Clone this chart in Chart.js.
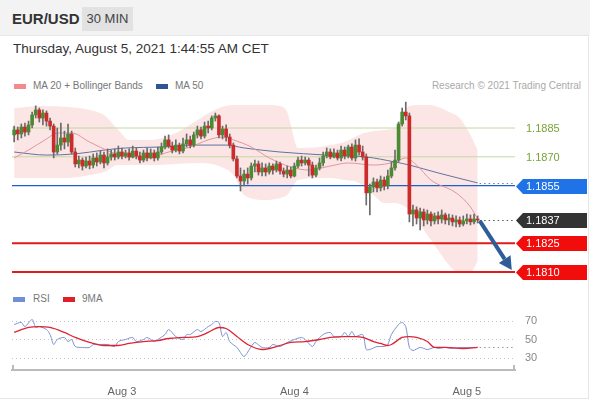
<!DOCTYPE html>
<html><head><meta charset="utf-8">
<script src="https://cdn.jsdelivr.net/npm/chart.js@4.4.1/dist/chart.umd.min.js"></script>
<style>
html,body{margin:0;padding:0;width:590px;height:400px;overflow:hidden;background:#fff;font-family:"Liberation Sans",Arial,sans-serif;}
#hdr{position:absolute;left:0;top:0;width:590px;height:35px;background:#f3f3f3;}
#card{position:absolute;left:-1px;top:35px;width:588px;height:362px;background:#fff;border:1px solid #e6e6e6;}
.abs{position:absolute;white-space:nowrap;line-height:16px;}
#sym{left:12px;top:11px;font-size:15px;font-weight:bold;color:#333;}
#tf{left:82px;top:7px;width:51px;height:24px;line-height:24px;text-align:center;background:#e2e2e2;font-size:13px;color:#444;}
#date{left:13px;top:41px;font-size:13.5px;color:#333;}
.leg{font-size:10px;color:#777;}
.sw{position:absolute;width:12px;height:5px;}
#pc{position:absolute;left:0;top:95px;}
#rc{position:absolute;left:0;top:285px;}
</style></head>
<body>
<div id="hdr"></div>
<div id="card"></div>
<div class="abs" id="sym">EUR/USD</div>
<div class="abs" id="tf">30 MIN</div>
<div class="abs" id="date">Thursday, August 5, 2021 1:44:55 AM CET</div>
<div class="sw" style="left:14px;top:84px;background:#f28b8b"></div>
<div class="abs leg" style="left:33px;top:78px">MA 20 + Bollinger Bands</div>
<div class="sw" style="left:156px;top:84px;background:#2f5597"></div>
<div class="abs leg" style="left:175px;top:78px">MA 50</div>
<div class="abs leg" style="right:9px;top:78px;color:#aaa">Research © 2021 Trading Central</div>
<div class="sw" style="left:13px;top:297px;background:#6f8fd6"></div>
<div class="abs leg" style="left:33px;top:291px">RSI</div>
<div class="sw" style="left:63px;top:297px;background:#e01f26"></div>
<div class="abs leg" style="left:82px;top:291px">9MA</div>
<canvas id="pc" width="590" height="185"></canvas>
<canvas id="rc" width="590" height="115"></canvas>
<script>
// ---------- DATA ----------
const opens = [1.18814,1.18840,1.18819,1.18855,1.18829,1.18866,1.18918,1.18944,1.18902,1.18928,
1.18886,1.18860,1.18725,1.18761,1.18798,1.18777,1.18819,1.18725,1.18663,1.18683,
1.18652,1.18678,1.18657,1.18694,1.18673,1.18709,1.18668,1.18699,1.18715,1.18699,
1.18725,1.18704,1.18720,1.18699,1.18730,1.18704,1.18683,1.18720,1.18694,1.18720,
1.18694,1.18725,1.18751,1.18788,1.18756,1.18735,1.18761,1.18730,1.18767,1.18788,
1.18761,1.18814,1.18840,1.18808,1.18860,1.18850,1.18902,1.18913,1.18814,1.18845,
1.18803,1.18761,1.18689,1.18600,1.18574,1.18610,1.18590,1.18652,1.18663,1.18621,
1.18642,1.18621,1.18652,1.18631,1.18663,1.18626,1.18610,1.18631,1.18600,1.18652,
1.18683,1.18668,1.18683,1.18657,1.18605,1.18642,1.18668,1.18704,1.18725,1.18699,
1.18720,1.18694,1.18735,1.18704,1.18751,1.18694,1.18761,1.18725,1.18699,1.18512,
1.18543,1.18569,1.18538,1.18579,1.18548,1.18600,1.18642,1.18683,1.18871,1.18933,
1.18913,1.18402,1.18423,1.18381,1.18413,1.18371,1.18402,1.18366,1.18392,1.18376,
1.18397,1.18371,1.18381,1.18361,1.18371,1.18350,1.18366,1.18376,1.18361,1.18376];
const highs = [1.18860,1.18855,1.18871,1.18876,1.18886,1.18933,1.18965,1.18954,1.18944,1.18939,
1.18902,1.18871,1.18850,1.18876,1.18834,1.18871,1.18834,1.18746,1.18704,1.18694,
1.18699,1.18704,1.18715,1.18720,1.18730,1.18725,1.18741,1.18735,1.18741,1.18756,
1.18746,1.18735,1.18741,1.18756,1.18746,1.18725,1.18735,1.18746,1.18741,1.18735,
1.18751,1.18772,1.18808,1.18814,1.18777,1.18788,1.18772,1.18798,1.18819,1.18808,
1.18829,1.18860,1.18855,1.18881,1.18886,1.18913,1.18928,1.18918,1.18860,1.18866,
1.18819,1.18772,1.18704,1.18642,1.18631,1.18642,1.18668,1.18683,1.18678,1.18668,
1.18663,1.18668,1.18663,1.18678,1.18673,1.18642,1.18652,1.18647,1.18668,1.18699,
1.18704,1.18699,1.18694,1.18673,1.18657,1.18694,1.18725,1.18746,1.18741,1.18741,
1.18735,1.18756,1.18751,1.18761,1.18767,1.18788,1.18793,1.18756,1.18715,1.18558,
1.18590,1.18584,1.18600,1.18595,1.18631,1.18673,1.18735,1.18881,1.18954,1.18985,
1.18928,1.18449,1.18439,1.18433,1.18428,1.18423,1.18413,1.18407,1.18413,1.18423,
1.18407,1.18402,1.18397,1.18392,1.18387,1.18392,1.18402,1.18397,1.18402,1.18392];
const lows = [1.18777,1.18788,1.18798,1.18808,1.18814,1.18850,1.18902,1.18881,1.18866,1.18860,
1.18840,1.18694,1.18715,1.18735,1.18741,1.18756,1.18715,1.18647,1.18642,1.18631,
1.18642,1.18637,1.18642,1.18652,1.18663,1.18642,1.18657,1.18683,1.18683,1.18689,
1.18689,1.18694,1.18683,1.18694,1.18689,1.18668,1.18673,1.18678,1.18689,1.18678,
1.18683,1.18715,1.18741,1.18746,1.18720,1.18725,1.18715,1.18720,1.18751,1.18746,
1.18751,1.18798,1.18793,1.18798,1.18824,1.18840,1.18886,1.18798,1.18793,1.18782,
1.18746,1.18678,1.18590,1.18522,1.18548,1.18558,1.18579,1.18621,1.18605,1.18600,
1.18600,1.18610,1.18610,1.18621,1.18610,1.18595,1.18590,1.18590,1.18595,1.18642,
1.18652,1.18657,1.18600,1.18590,1.18595,1.18631,1.18652,1.18694,1.18689,1.18694,
1.18683,1.18678,1.18689,1.18694,1.18683,1.18678,1.18709,1.18683,1.18449,1.18397,
1.18517,1.18517,1.18522,1.18527,1.18533,1.18590,1.18631,1.18673,1.18860,1.18892,
1.18361,1.18340,1.18350,1.18319,1.18340,1.18350,1.18340,1.18350,1.18350,1.18355,
1.18350,1.18345,1.18340,1.18335,1.18335,1.18340,1.18350,1.18345,1.18350,1.18355];
const closes = [1.18840,1.18819,1.18855,1.18829,1.18866,1.18918,1.18944,1.18902,1.18928,1.18886,
1.18860,1.18725,1.18761,1.18798,1.18777,1.18819,1.18725,1.18663,1.18683,1.18652,
1.18678,1.18657,1.18694,1.18673,1.18709,1.18668,1.18699,1.18715,1.18699,1.18725,
1.18704,1.18720,1.18699,1.18730,1.18704,1.18683,1.18720,1.18694,1.18720,1.18694,
1.18725,1.18751,1.18788,1.18756,1.18735,1.18761,1.18730,1.18767,1.18788,1.18761,
1.18814,1.18840,1.18808,1.18860,1.18850,1.18902,1.18913,1.18814,1.18845,1.18803,
1.18761,1.18689,1.18600,1.18574,1.18610,1.18590,1.18652,1.18663,1.18621,1.18642,
1.18621,1.18652,1.18631,1.18663,1.18626,1.18610,1.18631,1.18600,1.18652,1.18683,
1.18668,1.18683,1.18657,1.18605,1.18642,1.18668,1.18704,1.18725,1.18699,1.18720,
1.18694,1.18735,1.18704,1.18751,1.18694,1.18761,1.18725,1.18699,1.18512,1.18543,
1.18569,1.18538,1.18579,1.18548,1.18600,1.18642,1.18683,1.18871,1.18933,1.18913,
1.18402,1.18423,1.18381,1.18413,1.18371,1.18402,1.18366,1.18392,1.18376,1.18397,
1.18371,1.18381,1.18361,1.18371,1.18350,1.18366,1.18376,1.18361,1.18376,1.18371];

const bandIdx = [0,8,15,21,25,29,32,38,45,52,57,61,64,70,74,76,77,79,85,88,92,96,100,103,106,108,110,113,116,118,121,124,127,129];
const bandUpper = [1.18954,1.18965,1.18959,1.18944,1.18918,1.18840,1.18788,1.18788,1.18824,1.18902,
1.18954,1.18970,1.18970,1.18970,1.18965,1.18933,1.18866,1.18746,1.18751,1.18761,
1.18777,1.18814,1.18834,1.18840,1.18850,1.18918,1.18965,1.18970,1.18970,1.18959,
1.18933,1.18902,1.18814,1.18735];
const bandLower = [1.18590,1.18590,1.18590,1.18605,1.18621,1.18657,1.18657,1.18657,1.18663,1.18668,
1.18652,1.18605,1.18501,1.18475,1.18486,1.18501,1.18527,1.18579,1.18590,1.18590,
1.18579,1.18564,1.18501,1.18459,1.18459,1.18449,1.18423,1.18345,1.18267,1.18215,
1.18137,1.18095,1.18100,1.18152];

const ma20Idx = [0,4,9,12,16,21,27,32,38,43,49,54,58,61,66,71,77,82,88,93,100,106,109,112,116,123,127,129];
const ma20Val = [1.18694,1.18735,1.18793,1.18824,1.18824,1.18777,1.18725,1.18699,1.18699,1.18725,
1.18751,1.18788,1.18803,1.18788,1.18751,1.18694,1.18647,1.18631,1.18652,1.18668,
1.18657,1.18673,1.18694,1.18657,1.18579,1.18512,1.18439,1.18376];
const ma50Idx = [0,9,17,25,31,41,50,59,64,74,87,98,106,110,118,129];
const ma50Val = [1.18725,1.18709,1.18715,1.18735,1.18746,1.18751,1.18761,1.18761,1.18746,1.18725,1.18709,1.18699,1.18673,1.18657,1.18616,1.18564];

const levelVals = [1.1885, 1.1870, 1.1855, 1.1825, 1.1810];
const lastPrice = 1.1837;
const arrowFrom = [129.6, 1.18366];
const arrowTo = [138.5, 1.18110];

const rsiIdx = [0,2,3,5,6,7,9,10,11,12,14,15,16,17,19,21,22,24,26,28,29,31,33,34,36,37,39,40,42,43,45,47,48,49,51,52,54,55,56,57,58,59,60,62,63,64,66,67,69,71,72,74,76,78,80,81,83,84,86,88,89,91,92,93,94,95,97,98,99,101,103,104,105,107,108,109,110,111,113,115,117,118,120,122,124,126,128,129];
const rsiVal = [66.2,68.4,64.0,71.6,63.0,64.0,60.8,55.4,44.6,50.0,52.2,47.8,50.0,42.4,41.4,41.4,44.6,44.6,44.6,42.4,47.8,50.0,52.2,47.8,50.0,52.2,47.8,50.0,55.4,60.8,53.2,50.0,55.4,55.4,60.8,58.6,64.0,66.2,69.5,68.4,53.2,57.6,47.8,41.4,35.9,31.6,42.4,46.8,41.4,41.4,44.6,42.4,46.8,50.0,52.2,50.0,42.4,47.8,55.4,57.6,53.2,53.2,57.6,53.2,58.6,53.2,55.4,39.2,39.2,42.4,42.4,44.6,55.4,66.2,68.4,64.0,41.4,38.1,41.4,39.2,41.4,40.3,41.4,40.3,41.4,41.4,41.4,41.4];
const rsiMaIdx = [0,4,7,10,14,17,21,25,29,32,36,40,43,47,51,54,57,59,62,65,69,73,77,81,85,88,92,95,97,100,102,104,105,108,110,112,115,117,120,125,129];
const rsiMaVal = [57.6,63.0,64.0,63.0,57.6,52.2,46.8,43.5,43.5,45.7,47.8,48.9,51.1,52.2,53.2,57.6,63.0,61.9,53.2,44.6,39.2,42.4,46.8,47.8,50.0,52.2,53.2,53.2,52.2,47.8,45.7,43.5,44.6,52.2,53.2,52.2,47.8,41.4,41.4,40.3,41.4];
const rsiTicks = [30, 50, 70];
const dayTicks = [30, 78, 126];
const dayLabels = ['Aug 3', 'Aug 4', 'Aug 5'];

// ---------- STYLES ----------
const X_MIN = -0.6, X_MAX = 139.4;
const P_MIN = 1.1805833, P_MAX = 1.1902188;
const R_MIN = 17.03, R_MAX = 87.3;
const levelLine = ['#c2d9a0', '#c2d9a0', '#1f5fcc', '#e01b1b', '#e01b1b'];
const levelWidth = [1, 1, 1.3, 2, 2];
const levelTagBg = [null, null, '#1f73e6', '#f20d0d', '#f20d0d'];
const levelTagFg = ['#79a33a', '#79a33a', '#fff', '#fff', '#fff'];
const FONT = '"Liberation Sans", Arial, sans-serif';

const xy = (xs, ys) => xs.map((x, k) => ({x, y: ys[k]}));
const idx = closes.map((_, i) => i);

const levelSets = levelVals.map((v, k) => ({
  type: 'line', data: [{x: X_MIN, y: v}, {x: X_MAX, y: v}],
  borderColor: levelLine[k], borderWidth: levelWidth[k], pointRadius: 0, order: 8
}));

const pricePlugin = {
  id: 'priceExtras',
  afterDatasetsDraw(chart) {
    const {ctx, chartArea: a, scales: {x, y}} = chart;
    ctx.save();
    const dot = (x0, v, color) => {
      const py = Math.round(y.getPixelForValue(v)) + 0.5;
      ctx.beginPath(); ctx.setLineDash([1.5, 3]); ctx.strokeStyle = color; ctx.lineWidth = 1;
      ctx.moveTo(x.getPixelForValue(x0) + 2, py); ctx.lineTo(a.right, py); ctx.stroke();
    };
    dot(ma50Idx[ma50Idx.length - 1], ma50Val[ma50Val.length - 1], '#6b7fa6');
    dot(idx.length - 1, lastPrice, '#555');
    ctx.setLineDash([]);
    const x1 = x.getPixelForValue(arrowFrom[0]), y1 = y.getPixelForValue(arrowFrom[1]);
    const x2 = x.getPixelForValue(arrowTo[0]), y2 = y.getPixelForValue(arrowTo[1]);
    const ang = Math.atan2(y2 - y1, x2 - x1), head = 13, hw = 7;
    const bx = x2 - head * Math.cos(ang), by = y2 - head * Math.sin(ang);
    ctx.strokeStyle = '#2f5d99'; ctx.fillStyle = '#2f5d99'; ctx.lineWidth = 4;
    ctx.beginPath(); ctx.moveTo(x1, y1); ctx.lineTo(bx, by); ctx.stroke();
    ctx.beginPath(); ctx.moveTo(x2, y2);
    ctx.lineTo(bx + hw * Math.sin(ang), by - hw * Math.cos(ang));
    ctx.lineTo(bx - hw * Math.sin(ang), by + hw * Math.cos(ang));
    ctx.closePath(); ctx.fill();
    ctx.restore();
  },
  afterDraw(chart) {
    const {ctx, chartArea: a, scales: {y}} = chart;
    const tags = levelVals.map((v, k) => ({v, bg: levelTagBg[k], fg: levelTagFg[k]}));
    tags.push({v: lastPrice, bg: '#333', fg: '#fff'});
    ctx.save();
    ctx.font = '11px ' + FONT; ctx.textBaseline = 'middle'; ctx.textAlign = 'left';
    tags.forEach(t => {
      const py = Math.round(y.getPixelForValue(t.v));
      if (t.bg) {
        ctx.fillStyle = t.bg;
        ctx.beginPath();
        ctx.moveTo(a.right + 1, py + 0.5);
        ctx.lineTo(a.right + 8, py - 7);
        ctx.lineTo(587, py - 7);
        ctx.lineTo(587, py + 8);
        ctx.lineTo(a.right + 8, py + 8);
        ctx.closePath(); ctx.fill();
      }
      ctx.fillStyle = t.fg;
      ctx.fillText(t.v.toFixed(4), a.right + 11, py + 1);
    });
    ctx.restore();
  }
};

new Chart(document.getElementById('pc'), {
  type: 'bar',
  data: {
    datasets: [
      {type: 'line', data: xy(bandIdx, bandUpper), borderWidth: 0, pointRadius: 0, fill: '+1',
       backgroundColor: 'rgba(247,182,182,0.36)', cubicInterpolationMode: 'monotone', order: 20},
      {type: 'line', data: xy(bandIdx, bandLower), borderWidth: 0, pointRadius: 0, fill: false,
       cubicInterpolationMode: 'monotone', order: 19},
      ...levelSets,
      {type: 'line', data: xy(ma50Idx, ma50Val), borderColor: '#60739f', borderWidth: 1, pointRadius: 0,
       cubicInterpolationMode: 'monotone', order: 6},
      {type: 'line', data: xy(ma20Idx, ma20Val), borderColor: '#e3959a', borderWidth: 1, pointRadius: 0,
       cubicInterpolationMode: 'monotone', order: 5},
      {type: 'bar', data: idx.map(i => ({x: i, y: [lows[i], highs[i]]})), backgroundColor: '#6b6b6b',
       barThickness: 1, grouped: false, order: 2},
      {type: 'bar', data: idx.map(i => ({x: i, y: [opens[i], closes[i]]})),
       backgroundColor: idx.map(i => closes[i] >= opens[i] ? '#4b8a33' : '#cc2b2b'),
       barThickness: 3, minBarLength: 1, grouped: false, order: 1}
    ]
  },
  options: {
    responsive: false, animation: false, events: [],
    layout: {padding: {left: 12, right: 75, top: 0, bottom: 0}},
    plugins: {legend: {display: false}, tooltip: {enabled: false}},
    scales: {
      x: {type: 'linear', min: X_MIN, max: X_MAX, offset: false, display: false, grid: {offset: false}},
      y: {type: 'linear', min: P_MIN, max: P_MAX, display: false, beginAtZero: false}
    }
  },
  plugins: [pricePlugin]
});

const rsiPlugin = {
  id: 'rsiExtras',
  afterDatasetsDraw(chart) {
    const {ctx, chartArea: a, scales: {x, y}} = chart;
    ctx.save();
    ctx.setLineDash([1.5, 3]); ctx.strokeStyle = '#999'; ctx.lineWidth = 1;
    const py = Math.round(y.getPixelForValue(rsiVal[rsiVal.length - 1])) + 0.5;
    ctx.beginPath(); ctx.moveTo(x.getPixelForValue(rsiIdx[rsiIdx.length - 1]) + 2, py); ctx.lineTo(a.right, py); ctx.stroke();
    ctx.setLineDash([]);
    ctx.strokeStyle = '#bbb'; ctx.lineWidth = 2;
    ctx.beginPath();
    ctx.moveTo(a.left + 1, a.bottom); ctx.lineTo(a.left + 1, a.bottom - 5);
    ctx.moveTo(a.right - 1, a.bottom); ctx.lineTo(a.right - 1, a.bottom - 5);
    ctx.stroke();
    ctx.restore();
  }
};

new Chart(document.getElementById('rc'), {
  type: 'line',
  data: {
    datasets: [
      {data: xy(rsiIdx, rsiVal), borderColor: '#7d92d2', borderWidth: 1, pointRadius: 0, tension: 0.3, order: 2},
      {data: xy(rsiMaIdx, rsiMaVal), borderColor: '#dc2434', borderWidth: 1.3, pointRadius: 0, cubicInterpolationMode: 'monotone', order: 1}
    ]
  },
  options: {
    responsive: false, animation: false, events: [],
    layout: {padding: {left: 12, right: 0, top: 20, bottom: 0}},
    plugins: {legend: {display: false}, tooltip: {enabled: false}},
    scales: {
      x: {
        type: 'linear', min: X_MIN, max: X_MAX, offset: false,
        grid: {display: false},
        border: {display: true, color: '#bbb', width: 2},
        afterBuildTicks: s => { s.ticks = dayTicks.map(v => ({value: v})); },
        afterFit: s => { s.height = 30; },
        ticks: {padding: 7, color: '#666', font: {size: 11, family: FONT}, maxRotation: 0,
                callback: v => dayLabels[dayTicks.indexOf(v)]}
      },
      y: {
        type: 'linear', position: 'right', min: R_MIN, max: R_MAX,
        grid: {color: '#c4c4c4', lineWidth: 1, drawTicks: false},
        border: {display: false, dash: [1, 3]},
        afterBuildTicks: s => { s.ticks = rsiTicks.map(v => ({value: v})); },
        afterFit: s => { s.width = 75; },
        ticks: {padding: 10, color: '#888', font: {size: 11, family: FONT}}
      }
    }
  },
  plugins: [rsiPlugin]
});
</script>
</body></html>
